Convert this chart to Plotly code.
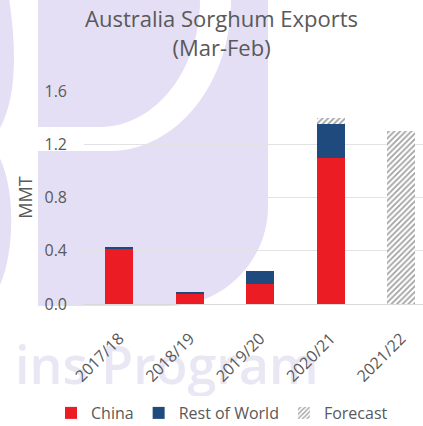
import plotly.graph_objects as go

# Marketing years and export volumes (million metric tonnes)
seasons = ["2017/18", "2018/19", "2019/20", "2020/21", "2021/22"]
china = [0.41, 0.076, 0.15, 1.10, None]
rest_of_world = [0.02, 0.016, 0.10, 0.25, None]
forecast = [None, None, None, 0.045, 1.30]
y_ticks = [0.0, 0.4, 0.8, 1.2, 1.6]

W, H = 423, 426
L, R, T, B = 84, 0, 91, 122
PW, PH = W - L - R, H - T - B


def px(x, y):
    """Convert page pixel position to paper coordinates."""
    return (x - L) / PW, (H - B - y) / PH


def path(cmds):
    out = []
    for c in cmds:
        if isinstance(c, str):
            out.append(c)
        else:
            xp, yp = px(*c)
            out.append(f"{xp:.5f},{yp:.5f}")
    return " ".join(out)


LAV = "#e4dff5"
k = 0.5523

# Background logo shapes
logo_main = path([
    "M", (38, -20), "L", (268, -20), "L", (268, 206),
    "C", (268, 206 + k * 100), (168 + k * 100, 306), (168, 306),
    "L", (38, 306), "Z",
])
logo_gap = path([
    "M", (38, 151), "L", (110, 151),
    "C", (110 + k * 120, 151), (231, k * 151), (231, 0),
    "L", (231, -20), "L", (200, -20), "L", (200, 0),
    "C", (200, k * 127), (100 + k * 100, 127), (100, 127),
    "L", (38, 127), "Z",
])
logo_left_a = path(["M", (0, -20), "L", (6, -20),
                    "C", (17, 40), (18, 95), (0, 128), "Z"])
logo_left_b = path(["M", (0, 158),
                    "C", (15, 190), (15, 250), (0, 285), "Z"])

# Faint watermark wording, kept in the lower layer beneath the axis labels
wm_x0, wm_y0 = px(12, 347)
wm_x1, wm_y1 = px(330, 387)

shapes = [
    dict(type="path", path=logo_main, xref="paper", yref="paper",
         fillcolor=LAV, line=dict(width=0), layer="below"),
    dict(type="path", path=logo_gap, xref="paper", yref="paper",
         fillcolor="white", line=dict(width=0), layer="below"),
    dict(type="path", path=logo_left_a, xref="paper", yref="paper",
         fillcolor=LAV, line=dict(width=0), layer="below"),
    dict(type="path", path=logo_left_b, xref="paper", yref="paper",
         fillcolor=LAV, line=dict(width=0), layer="below"),
    dict(type="rect", xref="paper", yref="paper",
         x0=wm_x0, x1=wm_x1, y0=wm_y0, y1=wm_y1,
         fillcolor="rgba(0,0,0,0)", line=dict(width=0), layer="below",
         label=dict(text="ins Program", textposition="middle left",
                    padding=0,
                    font=dict(family="Open Sans", size=52, color="#eae7f5",
                              weight=600))),
]

tx, ty = px(221, 1)

fig = go.Figure()
fig.add_trace(go.Bar(
    name="China", x=seasons, y=china,
    marker=dict(color="#ec1c24", line=dict(width=0)),
))
fig.add_trace(go.Bar(
    name="Rest of World", x=seasons, y=rest_of_world,
    marker=dict(color="#1f4a7e", line=dict(width=0)),
))
fig.add_trace(go.Bar(
    name="Forecast", x=seasons, y=forecast,
    marker=dict(color="white", line=dict(width=0),
                pattern=dict(shape="/", fgcolor="#3f3f3f", bgcolor="white",
                             size=4, solidity=0.42, fillmode="overlay")),
))

fig.update_layout(
    width=W, height=H,
    margin=dict(l=L, r=R, t=T, b=B, autoexpand=False),
    barmode="stack",
    bargap=0.6,
    paper_bgcolor="white",
    plot_bgcolor="rgba(0,0,0,0)",
    font=dict(family="Open Sans", color="#595959"),
    xaxis=dict(
        range=[-0.5, 4.31],
        tickangle=-45,
        tickfont=dict(size=16, color="#595959"),
        showline=True, linecolor="#d9d9d9", linewidth=1,
        showgrid=False, ticks="", ticklabelstandoff=18,
    ),
    yaxis=dict(
        range=[0, 1.6],
        tickvals=y_ticks,
        ticktext=[f"{v:.1f}" for v in y_ticks],
        tickfont=dict(size=16, color="#595959"),
        showgrid=True, gridcolor="#e3e3e3", gridwidth=1,
        zeroline=False, ticks="", ticklabelstandoff=16,
        title=dict(text="MMT", font=dict(size=18, color="#595959"), standoff=7),
    ),
    legend=dict(
        orientation="h", xanchor="center", x=px(222, 0)[0],
        yanchor="middle", y=px(0, 413)[1],
        font=dict(size=16, color="#595959"),
        itemwidth=30, traceorder="normal",
    ),
    shapes=shapes,
    annotations=[
        dict(
            text="Australia Sorghum Exports<br>(Mar-Feb)",
            xref="paper", yref="paper", x=tx, y=ty,
            xanchor="center", yanchor="top", showarrow=False,
            font=dict(family="Open Sans", size=22, color="#595959"),
        ),
    ],
)

fig.write_html("out.html")
